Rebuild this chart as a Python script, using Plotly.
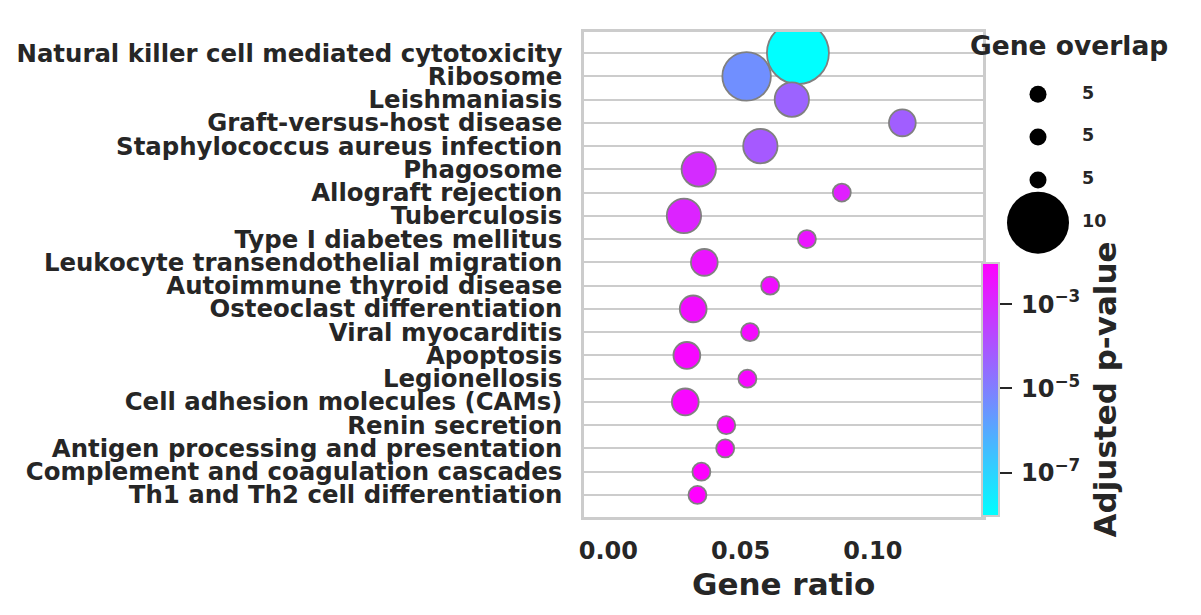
import numpy as np
import plotly.graph_objects as go

# ---------------- data ----------------
pathways = [
    "Natural killer cell mediated cytotoxicity",
    "Ribosome",
    "Leishmaniasis",
    "Graft-versus-host disease",
    "Staphylococcus aureus infection",
    "Phagosome",
    "Allograft rejection",
    "Tuberculosis",
    "Type I diabetes mellitus",
    "Leukocyte transendothelial migration",
    "Autoimmune thyroid disease",
    "Osteoclast differentiation",
    "Viral myocarditis",
    "Apoptosis",
    "Legionellosis",
    "Cell adhesion molecules (CAMs)",
    "Renin secretion",
    "Antigen processing and presentation",
    "Complement and coagulation cascades",
    "Th1 and Th2 cell differentiation",
]
gene_ratio = [0.0717, 0.0523, 0.0694, 0.1112, 0.0575, 0.0342, 0.0883, 0.0286, 0.0751, 0.0363,
              0.0612, 0.0321, 0.0536, 0.0297, 0.0526, 0.0291, 0.0446, 0.0442, 0.0352, 0.0337]
gene_overlap = [10, 8, 6, 5, 6, 6, 4, 6, 4, 5,
                4, 5, 4, 5, 4, 5, 4, 4, 4, 4]
adj_pvalue = [9.3e-9, 4.1e-6, 4.4e-5, 5.8e-5, 7.6e-5, 9.1e-4, 1.8e-3, 1.4e-3, 3.2e-3, 3.2e-3,
              4.2e-3, 4.8e-3, 5.6e-3, 6.4e-3, 6.4e-3, 6.6e-3, 8.4e-3, 8.6e-3, 9.5e-3, 9.5e-3]

x_ticks = [0.00, 0.05, 0.10]
x_ticklabels = ["0.00", "0.05", "0.10"]
cbar_tick_exp = [-7, -5, -3]
legend_labels = ["5", "5", "5", "10"]

# ---------------- styling ----------------
TXT = "#262626"
GRID = "#cccccc"
FONT = "DejaVu Sans"
legend_marker_px = [17, 17, 17, 62]

ov = np.array(gene_overlap, dtype=float)
omin, omax = ov.min(), ov.max()
marker_px = 18 + 44 * ((ov - omin) / (omax - omin)) ** 0.9
logp = np.log10(adj_pvalue)
cool = [[0, "#00ffff"], [1, "#ff00ff"]]

OFF = 7  # page body margin compensation
W, H = 1201 - OFF, 615 - OFF


def fx(p):
    return (p - OFF) / W


def fy(p):
    return 1 - (p - OFF) / H


px_l, px_r, px_t, px_b = 583, 982, 30.7, 516

fig = go.Figure()
fig.add_trace(go.Scatter(
    x=gene_ratio, y=pathways, mode="markers",
    marker=dict(size=marker_px, sizemode="diameter", color=logp, opacity=1,
                colorscale=cool, cmin=logp.min(), cmax=logp.max(),
                line=dict(color="#808080", width=1.8),
                colorbar=dict(
                    x=fx(981), xanchor="left", xpad=0,
                    y=fy(515), yanchor="bottom", ypad=0,
                    len=(515 - 262) / H, lenmode="fraction",
                    thickness=17, outlinecolor=GRID, outlinewidth=2,
                    tickvals=cbar_tick_exp,
                    ticktext=[f"\u200910<sup>\u2212{abs(e)}</sup>" for e in cbar_tick_exp],
                    ticks="outside", ticklen=12, tickwidth=2, tickcolor=TXT,
                    tickfont=dict(family=FONT, size=24, color=TXT, weight="bold"),
                )),
    cliponaxis=True, showlegend=False, hoverinfo="skip",
))

# size legend on auxiliary axes
nleg = len(legend_labels)
fig.add_trace(go.Scatter(
    x=[0] * nleg, y=list(range(nleg)), mode="markers",
    marker=dict(size=legend_marker_px, color="black", opacity=1, line=dict(width=0)),
    xaxis="x2", yaxis="y2", showlegend=False, hoverinfo="skip", cliponaxis=False,
))
fig.add_trace(go.Scatter(
    x=[2.2] * nleg, y=list(range(nleg)), mode="text",
    text=legend_labels, textposition="middle right",
    textfont=dict(family=FONT, size=17.5, color=TXT, weight="bold"),
    xaxis="x2", yaxis="y2", showlegend=False, hoverinfo="skip", cliponaxis=False,
))

n = len(pathways)
fig.update_layout(
    width=W, height=H, margin=dict(l=0, r=0, t=0, b=0),
    paper_bgcolor="white", plot_bgcolor="white",
    font=dict(family=FONT, color=TXT),
    xaxis=dict(domain=[fx(px_l), fx(px_r)], range=[-0.0092, 0.1417],
               tickmode="array", tickvals=x_ticks, ticktext=x_ticklabels,
               showgrid=False, zeroline=False,
               showline=True, mirror=True, linecolor=GRID, linewidth=2.5,
               ticks="", ticklabelstandoff=10, automargin=False,
               tickfont=dict(family=FONT, size=24, color=TXT, weight="bold")),
    yaxis=dict(domain=[fy(px_b), fy(px_t)], type="category",
               categoryorder="array", categoryarray=pathways,
               tickmode="array", tickvals=pathways, ticktext=pathways,
               range=[n - 0.05, -0.92], showgrid=True, gridcolor=GRID, gridwidth=1.6,
               zeroline=False, showline=True, mirror=True, linecolor=GRID, linewidth=2.5,
               ticks="", ticklabelstandoff=14, automargin=False,
               tickfont=dict(family=FONT, size=24.4, color=TXT, weight="bold")),
    xaxis2=dict(domain=[fx(1017), fx(1110)], range=[-1, 3.65], visible=False, fixedrange=True),
    yaxis2=dict(domain=[fy(221.7), fy(93.3)], range=[3, 0], visible=False, fixedrange=True),
    annotations=[
        dict(text="Gene ratio", x=fx((px_l + px_r) / 2), y=fy(583), xref="paper", yref="paper",
             xanchor="center", yanchor="middle", showarrow=False,
             font=dict(family=FONT, size=31, color=TXT, weight="bold")),
        dict(text="Adjusted p-value", x=fx(1103), y=fy(388.5), xref="paper", yref="paper",
             xanchor="center", yanchor="middle", showarrow=False, textangle=-90,
             font=dict(family=FONT, size=31, color=TXT, weight="bold")),
        dict(text="Gene overlap", x=fx(1067.5), y=fy(44.5), xref="paper", yref="paper",
             xanchor="center", yanchor="middle", showarrow=False,
             font=dict(family=FONT, size=26.5, color=TXT, weight="bold")),
    ],
)

fig.write_html("out.html")
